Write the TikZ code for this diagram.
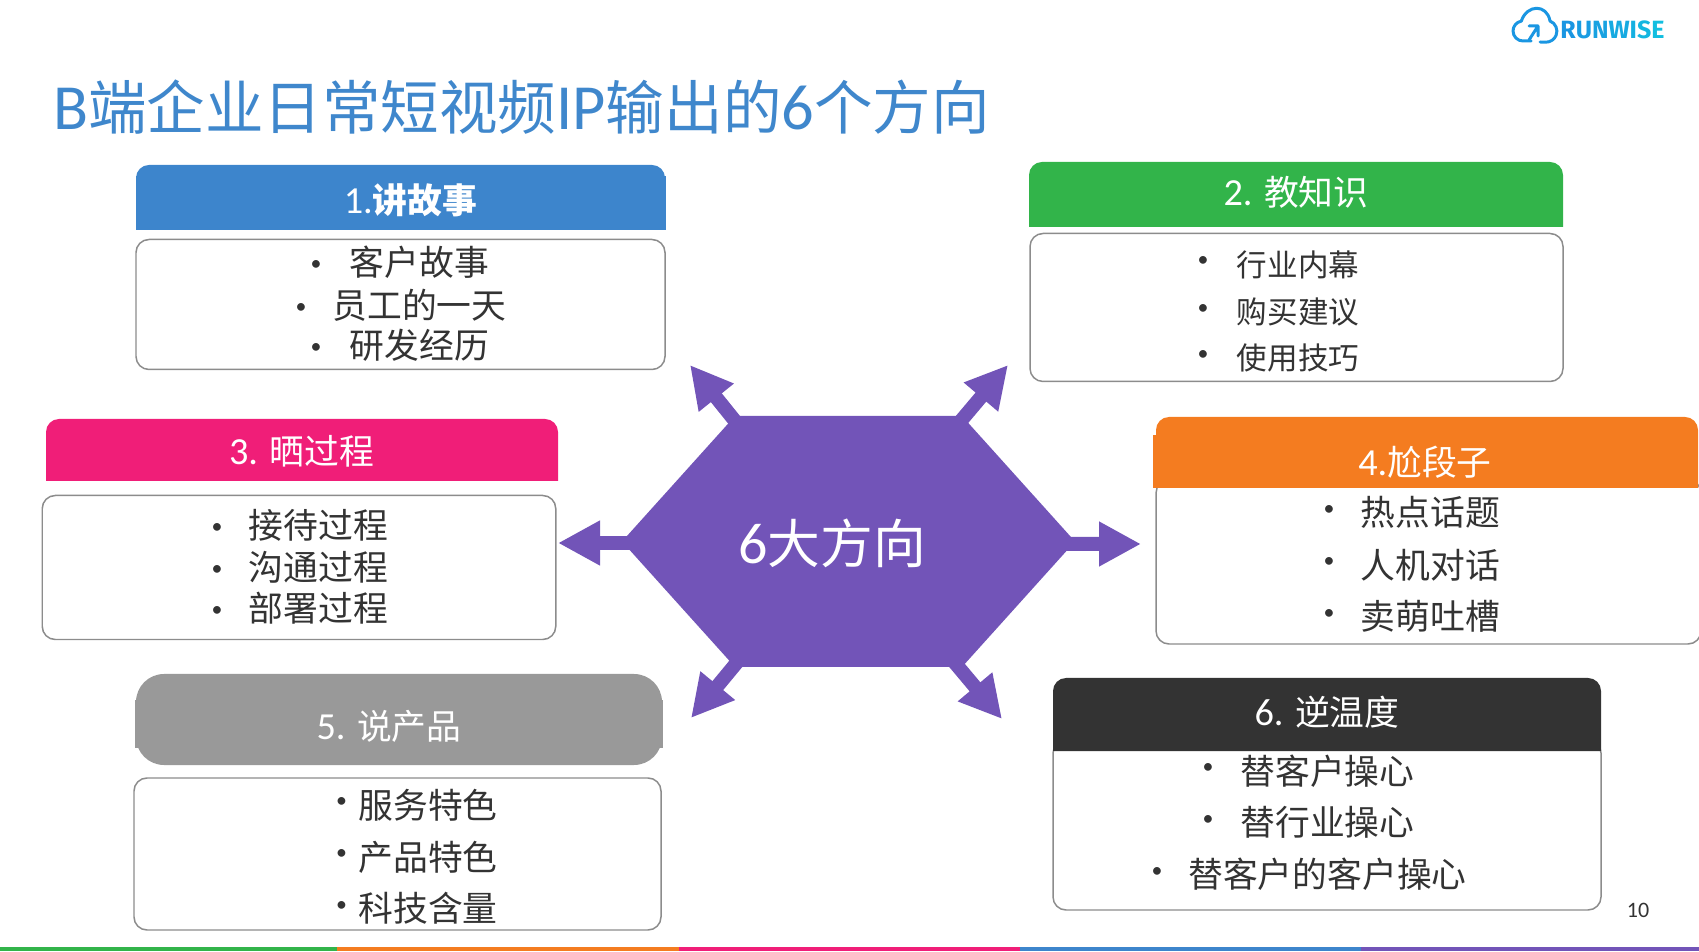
\documentclass[tikz,border=0pt]{standalone}
\usepackage{fontspec}
\usepackage{xcolor}
\usepackage{tikz}
\usetikzlibrary{arrows.meta,positioning,shapes.symbols}
\setmainfont[Scale=1.1]{Carlito}
\newfontfamily\cjk{Noto Sans CJK SC}
\newfontfamily\logofont{Fira Sans}
\definecolor{titleblue}{HTML}{3F87CC}
\definecolor{barblue}{HTML}{3D85CC}
\definecolor{bargreen}{HTML}{32B44A}
\definecolor{barpink}{HTML}{F01E78}
\definecolor{barorange}{HTML}{F47C20}
\definecolor{bargray}{HTML}{999999}
\definecolor{bardark}{HTML}{333333}
\definecolor{hubpurple}{HTML}{7254B8}
\definecolor{itemtext}{HTML}{333333}
\definecolor{boxline}{HTML}{8C8C8C}
\definecolor{logoblue}{HTML}{1A96E2}
\definecolor{logocyan}{HTML}{12BEE0}

\begin{document}
\begin{tikzpicture}[
    headbar/.style={rounded corners=0.26cm},
    headtext/.style={text=white, font=\fontsize{19.8}{23}\selectfont, inner sep=0pt},
    listbox/.style={draw=boxline, line width=0.85pt, rounded corners=0.26cm, fill=white, inner sep=0pt},
    item/.style={text=itemtext, font=\fontsize{19.8}{23}\selectfont\cjk, inner sep=0pt, yshift=0.02cm},
    smallitem/.style={text=itemtext, font=\fontsize{17.4}{21}\selectfont\cjk, inner sep=0pt},
    dot/.style={text=itemtext, font=\fontsize{11.3}{14}\selectfont, inner sep=0pt, yshift=-0.05cm},
    spoke/.style={hubpurple, line width=0.28cm, -{Triangle[length=0.84cm,width=0.84cm]}},
    logoline/.style={logoblue, line width=1.7pt, line cap=round, line join=round}
]
    \useasboundingbox (0,0) rectangle (33.98,19.02);

    % title and logo
    \node[text=titleblue, anchor=west, inner sep=0pt, font=\fontsize{33.3}{40}\selectfont] (title) at (1.06,16.88)
        {B{\cjk 端企业日常短视频}IP{\cjk 输出的}6{\cjk 个方向}};
    \node[anchor=west, inner sep=0pt, font=\fontsize{14.2}{16}\selectfont\logofont\bfseries] (logotext) at (31.2,18.42)
        {\textcolor{logoblue}{R}\textcolor{logoblue!85!logocyan}{U}\textcolor{logoblue!70!logocyan}{N}\textcolor{logoblue!50!logocyan}{W}\textcolor{logoblue!35!logocyan}{I}\textcolor{logoblue!20!logocyan}{S}\textcolor{logocyan}{E}};
    \draw[logoline] (30.62,18.2) -- (30.46,18.2) arc (270:100:0.2)
        .. controls (30.54,18.94) and (30.94,18.94) .. (31,18.6) arc (68:-90:0.22) -- (30.8,18.18);
    \draw[logoline] (30.58,18.22) -- (30.76,18.5) (30.58,18.5) -- (30.76,18.5) -- (30.76,18.3);

    % list boxes
    \node[listbox, minimum width=10.58cm, minimum height=2.6cm] (B1) at (8.01,12.93) {};
    \node[listbox, minimum width=10.66cm, minimum height=2.96cm] (B2) at (25.93,12.87) {};
    \node[listbox, minimum width=10.27cm, minimum height=2.88cm] (B3) at (5.98,7.67) {};
    \node[listbox, minimum width=10.9cm, minimum height=3.28cm] (B4) at (28.57,7.78) {};
    \node[listbox, minimum width=10.54cm, minimum height=3.04cm] (B5) at (7.95,1.94) {};
    \node[listbox, minimum width=10.96cm, minimum height=3.4cm] (B6) at (26.54,2.52) {};

    % header bars
    \fill[barblue, headbar] (2.72,14.42) -- (2.72,15.72) -- (13.3,15.72) -- (13.3,14.42) -- cycle;
    \fill[barblue] (2.72,14.42) rectangle (13.32,15.5);
    \fill[bargreen, headbar] (20.58,14.48) -- (20.58,15.78) -- (31.26,15.78) -- (31.26,14.48);
    \fill[barpink, headbar] (0.92,9.4) -- (0.92,10.64) -- (11.16,10.64) -- (11.16,9.4);
    \fill[barorange, headbar] (23.12,9.26) -- (23.12,10.68) -- (33.96,10.68) -- (33.96,9.26);
    \fill[barorange] (23.05,9.26) rectangle (33.94,10.32);
    \fill[bargray, rounded corners=0.56cm] (2.72,3.72) rectangle (13.24,5.54);
    \fill[bargray] (2.7,4.06) rectangle (13.26,5.02);
    \fill[bardark, headbar] (21.06,4.0) -- (21.06,5.46) -- (32.02,5.46) -- (32.02,4.0);

    \node[headtext] (H1) at (8.21,15.02) {1.{\cjk\bfseries 讲故事}};
    \node[headtext] (H2) at (25.92,15.18) {2. {\cjk 教知识}};
    \node[headtext] (H3) at (6.03,10) {3. {\cjk 晒过程}};
    \node[headtext] (H4) at (28.5,9.78) {4.{\cjk 尬段子}};
    \node[headtext] (H5) at (7.78,4.5) {5. {\cjk 说产品}};
    \node[headtext] (H6) at (26.54,4.78) {6. {\cjk 逆温度}};

    % list items
    \foreach \y/\b/\n/\t in {13.76/6.32/1/客户故事, 12.9/6.02/2/员工的一天, 12.1/6.32/3/研发经历} {
        \node[item] (a\n) at (8.39,\y) {\t};
        \node[dot] (ad\n) at (\b,\y) {•};
    }
    \foreach \y/\d/\n/\t in {13.72/13.84/1/行业内幕, 12.78/12.88/2/购买建议, 11.86/11.96/3/使用技巧} {
        \node[smallitem] (b\n) at (25.96,\y) {\t};
        \node[dot] (bd\n) at (24.06,\d) {•};
    }
    \foreach \y/\n/\t in {8.5/1/接待过程, 7.66/2/沟通过程, 6.84/3/部署过程} {
        \node[item] (c\n) at (6.37,\y) {\t};
        \node[dot] (cd\n) at (4.34,\y) {•};
    }
    \foreach \y/\d/\n/\t in {8.76/8.86/1/热点话题, 7.7/7.82/2/人机对话, 6.68/6.78/3/卖萌吐槽} {
        \node[item] (d\n) at (28.61,\y) {\t};
        \node[dot] (dd\n) at (26.58,\d) {•};
    }
    \foreach \y/\d/\n/\t in {2.9/3.02/1/服务特色, 1.86/1.98/2/产品特色, 0.84/0.94/3/科技含量} {
        \node[item] (e\n) at (8.56,\y) {\t};
        \node[dot] (ed\n) at (6.83,\d) {•};
    }
    \foreach \y/\d/\b/\n/\t in {3.58/3.7/24.16/1/替客户操心, 2.56/2.66/24.16/2/替行业操心, 1.52/1.62/23.14/3/替客户的客户操心} {
        \node[item] (f\n) at (26.55,\y) {\t};
        \node[dot] (fd\n) at (\b,\d) {•};
    }

    % hub and its arrows
    \coordinate (tipW) at (11.16,8.16);
    \coordinate (tipE) at (22.82,8.14);
    \coordinate (tipNW) at (13.8,11.72);
    \coordinate (tipNE) at (20.16,11.72);
    \coordinate (tipSW) at (13.82,4.66);
    \coordinate (tipSE) at (20.04,4.64);
    \coordinate (hubmid) at (16.97,8.19);
    \draw[spoke] ([yshift=-0.03cm]hubmid) -- (tipW);
    \draw[spoke] ([yshift=-0.05cm]hubmid) -- (tipE);
    \draw[spoke] ([xshift=-0.33cm]hubmid) -- (tipNW);
    \draw[spoke] ([xshift=0.21cm]hubmid) -- (tipNE);
    \draw[spoke] ([xshift=-0.23cm]hubmid) -- (tipSW);
    \draw[spoke] ([xshift=0.09cm]hubmid) -- (tipSE);
    \node[signal, signal to=east and west, signal pointer angle=96, fill=hubpurple, inner sep=0pt,
        minimum width=9.06cm, minimum height=5.02cm] (hub) at (hubmid) {};
    \node[text=white, inner sep=0pt, font=\fontsize{30}{35}\selectfont] (hublabel) at (16.64,8.16) {6{\cjk 大方向}};

    % page number and colour strip
    \node[text=itemtext, inner sep=0pt, font=\fontsize{11.4}{14}\selectfont] (pageno) at (32.76,0.82) {10};
    \foreach \x/\w/\c in {0/6.74/bargreen, 6.74/6.84/barorange, 13.58/6.82/barpink, 20.4/6.82/barblue, 27.22/6.76/hubpurple} {
        \fill[\c] (\x,0) rectangle ++(\w,0.08);
    }
\end{tikzpicture}
\end{document}
